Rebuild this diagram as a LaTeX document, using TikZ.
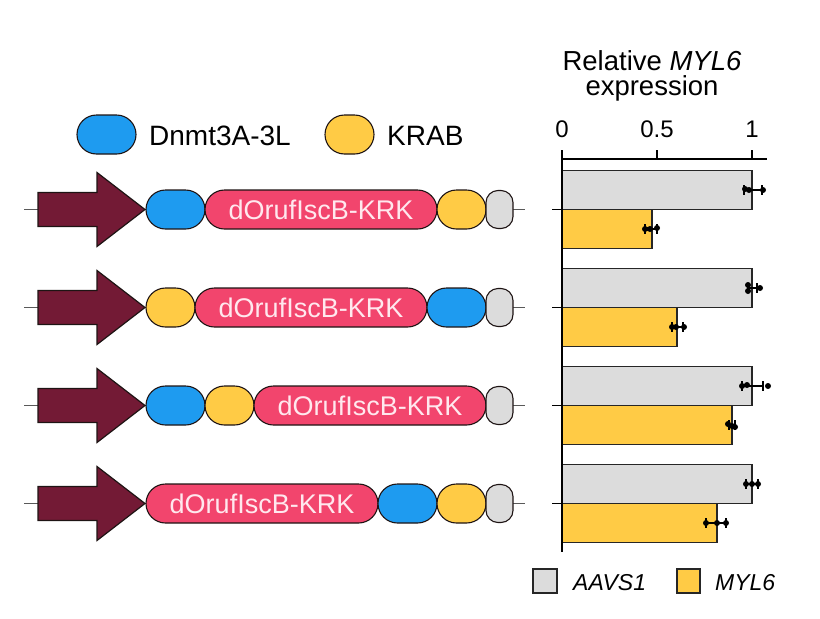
\documentclass[tikz,border=0pt]{standalone}
\usepackage{fontspec}
\setmainfont{Liberation Sans}
\usetikzlibrary{shapes.misc}

\definecolor{dnmtcol}{HTML}{1E9BF0}
\definecolor{krabcol}{HTML}{FFCB45}
\definecolor{orfcol}{HTML}{F2456D}
\definecolor{orftext}{HTML}{FFE8EE}
\definecolor{tailcol}{HTML}{DCDCDC}
\definecolor{promcol}{HTML}{731A35}
\definecolor{edgecol}{HTML}{1E1414}

\tikzset{
  pill/.style={rounded rectangle, draw=edgecol, line width=1.1pt,
    minimum height=39pt, inner sep=0pt, outer sep=0pt},
  dnmtbox/.style={pill, fill=dnmtcol, minimum width=59pt},
  krabbox/.style={pill, fill=krabcol, minimum width=49pt},
  orfbox/.style={pill, fill=orfcol, minimum width=232pt, text=orftext,
    font=\fontsize{27}{27}\selectfont},
  endbox/.style={rectangle, rounded corners=12pt, draw=edgecol, line width=1.1pt,
    fill=tailcol, minimum width=27pt, minimum height=38pt, inner sep=0pt},
  promoter/.style={draw=edgecol, line width=1.2pt, fill=promcol},
  backbone/.style={draw=black!65, line width=1.1pt},
  barbox/.style={draw=black!85, line width=1.4pt},
  axisline/.style={draw=black, line width=1.2pt},
  errbar/.style={draw=black, line width=1.2pt},
  lbl/.style={inner sep=0pt, anchor=base west}
}

\begin{document}
\begin{tikzpicture}[x=1pt, y=-1pt]
\useasboundingbox (0,0) rectangle (820,619);

% legend
\node[dnmtbox] (l1) at (106.5,134.5) {};
\node[lbl, font=\fontsize{28}{28}\selectfont] (l2) at (149,145) {Dnmt3A-3L};
\node[krabbox] (l3) at (349.5,134.5) {};
\node[lbl, font=\fontsize{28}{28}\selectfont] (l4) at (387,145) {KRAB};

% construct 1
\coordinate (s1) at (24,209.5);
\coordinate (e1) at (525,209.5);
\draw[backbone] (s1) -- (e1);
\draw[promoter] (38,192.5) -- (97,192.5) -- (97,172.5) -- (145,209.5) -- (97,246.5) -- (97,226.5) -- (38,226.5) -- cycle;
\node[dnmtbox] (v1) at (175.5,209.5) {};
\node[orfbox] (v2) at (321,209.5) {dOrufIscB-KRK};
\node[krabbox] (v3) at (461.5,209.5) {};
\node[endbox] (v4) at (499.5,209.5) {};

% construct 2
\coordinate (s2) at (24,307.5);
\coordinate (e2) at (525,307.5);
\draw[backbone] (s2) -- (e2);
\draw[promoter] (38,290.5) -- (97,290.5) -- (97,270.5) -- (145,307.5) -- (97,344.5) -- (97,324.5) -- (38,324.5) -- cycle;
\node[krabbox] (v5) at (170.5,307.5) {};
\node[orfbox] (v6) at (311,307.5) {dOrufIscB-KRK};
\node[dnmtbox] (v7) at (456.5,307.5) {};
\node[endbox] (v8) at (499.5,307.5) {};

% construct 3
\coordinate (s3) at (24,405.5);
\coordinate (e3) at (525,405.5);
\draw[backbone] (s3) -- (e3);
\draw[promoter] (38,388.5) -- (97,388.5) -- (97,368.5) -- (145,405.5) -- (97,442.5) -- (97,422.5) -- (38,422.5) -- cycle;
\node[dnmtbox] (v9) at (175.5,405.5) {};
\node[krabbox] (v10) at (229.5,405.5) {};
\node[orfbox] (v11) at (370,405.5) {dOrufIscB-KRK};
\node[endbox] (v12) at (499.5,405.5) {};

% construct 4
\coordinate (s4) at (24,503.5);
\coordinate (e4) at (525,503.5);
\draw[backbone] (s4) -- (e4);
\draw[promoter] (38,486.5) -- (97,486.5) -- (97,466.5) -- (145,503.5) -- (97,540.5) -- (97,520.5) -- (38,520.5) -- cycle;
\node[orfbox] (v13) at (262,503.5) {dOrufIscB-KRK};
\node[dnmtbox] (v14) at (407.5,503.5) {};
\node[krabbox] (v15) at (461.5,503.5) {};
\node[endbox] (v16) at (499.5,503.5) {};

% chart title and axis
\node[inner sep=0pt, anchor=base, font=\fontsize{27.5}{27.5}\selectfont] (t1) at (652,70) {Relative \textit{MYL6}};
\node[inner sep=0pt, anchor=base, font=\fontsize{27.5}{27.5}\selectfont] (t2) at (652,95) {expression};
\node[inner sep=0pt, anchor=base, font=\fontsize{24}{24}\selectfont] (x0) at (562,137) {0};
\node[inner sep=0pt, anchor=base, font=\fontsize{24}{24}\selectfont] (x1) at (657,137) {0.5};
\node[inner sep=0pt, anchor=base, font=\fontsize{24}{24}\selectfont] (x2) at (752,137) {1};

% bars
\draw[barbox, fill=tailcol] (562,170.5) rectangle (752,209.5);
\draw[barbox, fill=krabcol] (562,209.5) rectangle (652,248.5);
\draw[barbox, fill=tailcol] (562,268.5) rectangle (752,307.5);
\draw[barbox, fill=krabcol] (562,307.5) rectangle (677,346.5);
\draw[barbox, fill=tailcol] (562,366.5) rectangle (752,405.5);
\draw[barbox, fill=krabcol] (562,405.5) rectangle (732,444.5);
\draw[barbox, fill=tailcol] (562,464.5) rectangle (752,503.5);
\draw[barbox, fill=krabcol] (562,503.5) rectangle (717,542.5);

\draw[axisline] (562,159) -- (767,159);
\draw[axisline] (562,150) -- (562,552);
\draw[axisline] (657,150) -- (657,159);
\draw[axisline] (752,150) -- (752,159);
\draw[axisline] (552,209.5) -- (562,209.5);
\draw[axisline] (552,307.5) -- (562,307.5);
\draw[axisline] (552,405.5) -- (562,405.5);
\draw[axisline] (552,503.5) -- (562,503.5);

% error bars and points
\draw[errbar] (744,190) -- (762,190) (744,185) -- (744,195) (762,185) -- (762,195);
\fill (745,189) circle (3) (749,190) circle (3) (763,190) circle (3);
\draw[errbar] (645,229) -- (657,229) (645,224) -- (645,234) (657,224) -- (657,234);
\fill (645,229) circle (3) (650,229) circle (3) (657,228) circle (3);
\draw[errbar] (748,288) -- (757,288) (748,283) -- (748,293) (757,283) -- (757,293);
\fill (748,285) circle (3) (748,291) circle (3) (760,288) circle (3);
\draw[errbar] (672,327) -- (683,327) (672,322) -- (672,332) (683,322) -- (683,332);
\fill (672,327) circle (3) (676,327) circle (3) (684,327) circle (3);
\draw[errbar] (742,386) -- (763,386) (742,381) -- (742,391) (763,381) -- (763,391);
\fill (742,386) circle (3) (747,385) circle (3) (768,386) circle (3);
\draw[errbar] (729,425) -- (735,425) (729,420) -- (729,430) (735,420) -- (735,430);
\fill (728,424) circle (3) (732,426) circle (3) (735,427) circle (3);
\draw[errbar] (746,484) -- (758,484) (746,479) -- (746,489) (758,479) -- (758,489);
\fill (746,484) circle (3) (752,484) circle (3) (758,484) circle (3);
\draw[errbar] (706,523) -- (726,523) (706,518) -- (706,528) (726,518) -- (726,528);
\fill (706,523) circle (3) (717,523) circle (3) (726,523) circle (3);

% chart legend
\draw[barbox, line width=1.2pt, fill=tailcol] (533,569) rectangle (557,593);
\node[lbl, font=\fontsize{23}{23}\selectfont\itshape] (g1) at (573,590) {AAVS1};
\draw[barbox, line width=1.2pt, fill=krabcol] (677,569) rectangle (700,593);
\node[lbl, font=\fontsize{23}{23}\selectfont\itshape] (g2) at (715,590) {MYL6};
\end{tikzpicture}
\end{document}
